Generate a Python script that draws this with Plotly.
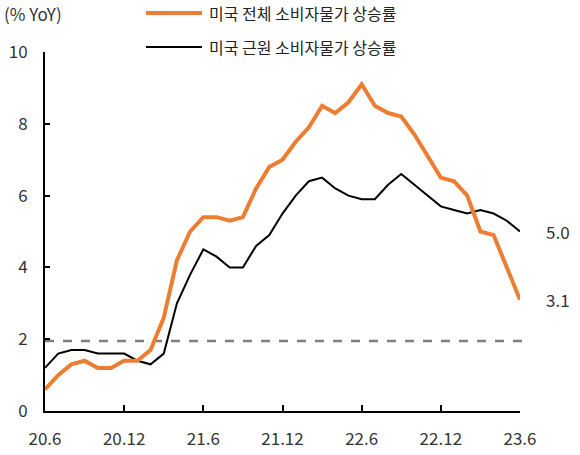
import plotly.graph_objects as go

months = ["20.6","20.7","20.8","20.9","20.10","20.11","20.12",
          "21.1","21.2","21.3","21.4","21.5","21.6","21.7","21.8","21.9","21.10","21.11","21.12",
          "22.1","22.2","22.3","22.4","22.5","22.6","22.7","22.8","22.9","22.10","22.11","22.12",
          "23.1","23.2","23.3","23.4","23.5","23.6"]
headline = [0.6,1.0,1.3,1.4,1.2,1.2,1.4,
            1.4,1.7,2.6,4.2,5.0,5.4,5.4,5.3,5.4,6.2,6.8,7.0,
            7.5,7.9,8.5,8.3,8.6,9.1,8.5,8.3,8.2,7.7,7.1,6.5,
            6.4,6.0,5.0,4.9,4.0,3.1]
core = [1.2,1.6,1.7,1.7,1.6,1.6,1.6,
        1.4,1.3,1.6,3.0,3.8,4.5,4.3,4.0,4.0,4.6,4.9,5.5,
        6.0,6.4,6.5,6.2,6.0,5.9,5.9,6.3,6.6,6.3,6.0,5.7,
        5.6,5.5,5.6,5.5,5.3,5.0]
tick_labels = ["20.6","20.12","21.6","21.12","22.6","22.12","23.6"]
target = 1.95
names = ["미국 전체 소비자물가 상승률", "미국 근원 소비자물가 상승률"]

FONT = "Noto Sans CJK KR"
x = list(range(len(months)))

fig = go.Figure()
fig.add_trace(go.Scatter(x=x, y=core, mode="lines", line=dict(color="black", width=2),
                         name=names[1], showlegend=False))
fig.add_trace(go.Scatter(x=x, y=headline, mode="lines", line=dict(color="#ED7D31", width=4),
                         name=names[0], showlegend=False))

# target dashed line
fig.add_shape(type="line", xref="paper", yref="y", x0=0, x1=1.02, y0=target, y1=target,
              line=dict(color="#7F7F7F", width=2.5, dash="dash"), layer="below")

# manual legend
for i, (nm, col, w) in enumerate([(names[0], "#ED7D31", 4), (names[1], "black", 2)]):
    yy = [1.1086, 1.0139][i]
    fig.add_shape(type="line", xref="paper", yref="paper", x0=(146-45)/475, x1=(202-45)/475,
                  y0=yy, y1=yy, line=dict(color=col, width=w))
    fig.add_annotation(xref="paper", yref="paper", x=(207-45)/475, y=yy, text=nm,
                       showarrow=False, xanchor="left", yanchor="middle",
                       font=dict(family=FONT, size=16, color="#222"))

fig.add_annotation(xref="paper", yref="paper", x=(2-45)/475, y=(411-13)/359, text="(% YoY)",
                   showarrow=False, xanchor="left", yanchor="middle",
                   font=dict(family=FONT, size=17, color="#333"))

# end labels
fig.add_annotation(x=x[-1], y=core[-1], text=f"{core[-1]:.1f}", showarrow=False,
                   xanchor="left", yanchor="middle", xshift=24,
                   font=dict(family=FONT, size=17, color="#333"))
fig.add_annotation(x=x[-1], y=headline[-1], text=f"{headline[-1]:.1f}", showarrow=False,
                   xanchor="left", yanchor="middle", xshift=24,
                   font=dict(family=FONT, size=17, color="#333"))

fig.update_layout(
    width=580, height=455,
    margin=dict(l=45, r=60, t=52, b=44),
    plot_bgcolor="white", paper_bgcolor="white",
    font=dict(family=FONT, size=17, color="#333"),
    xaxis=dict(range=[0, 36], tickvals=[0, 6, 12, 18, 24, 30, 36], ticktext=tick_labels,
               showgrid=False, zeroline=False, showline=True, linecolor="black", linewidth=2,
               ticks="inside", ticklen=6, tickwidth=2, tickcolor="black",
               ticklabelstandoff=12, automargin=False,
               tickfont=dict(size=17, color="#333")),
    yaxis=dict(range=[0, 10], tickvals=[0, 2, 4, 6, 8, 10],
               showgrid=False, zeroline=False, showline=True, linecolor="black", linewidth=2,
               ticks="inside", ticklen=5, tickwidth=2, tickcolor="black",
               ticklabelstandoff=12, automargin=False,
               tickfont=dict(size=17, color="#333")),
)

fig.write_html("out.html")
